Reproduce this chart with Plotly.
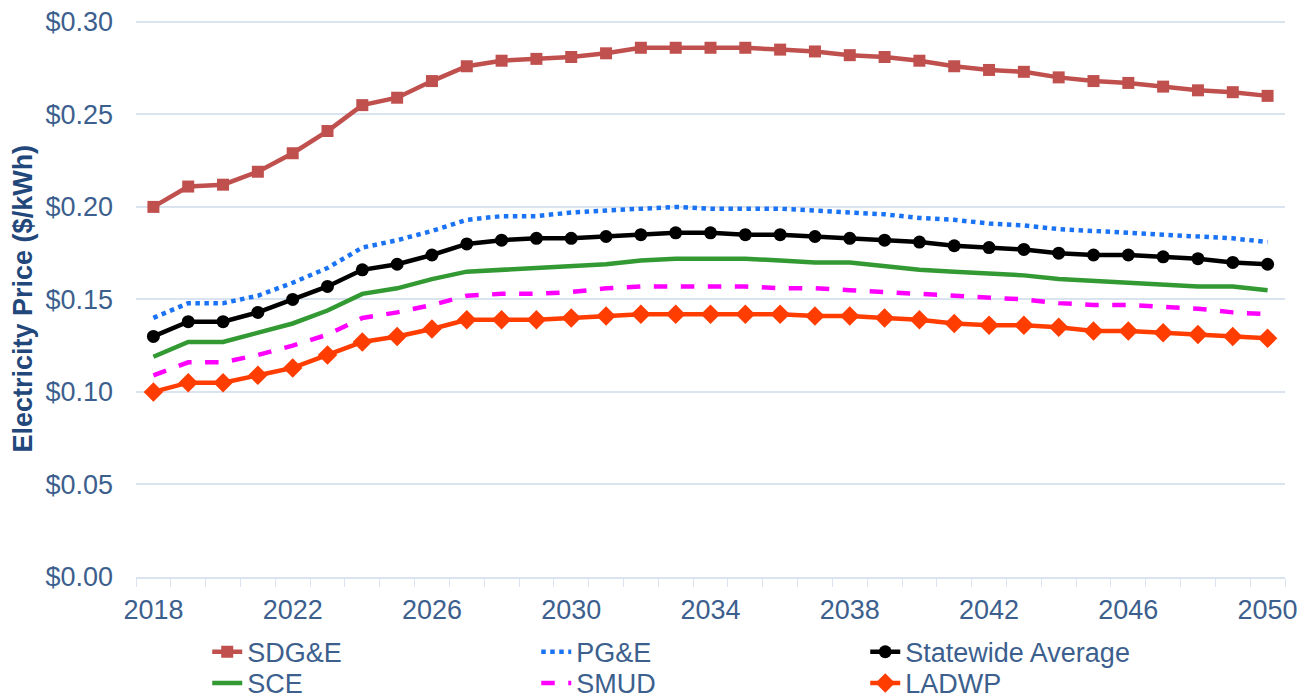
import plotly.graph_objects as go

years = list(range(2018, 2051))

sdge = [0.200, 0.211, 0.212, 0.219, 0.229, 0.241, 0.255, 0.259, 0.268, 0.276, 0.279, 0.280, 0.281, 0.283, 0.286,
        0.286, 0.286, 0.286, 0.285, 0.284, 0.282, 0.281, 0.279, 0.276, 0.274, 0.273, 0.270, 0.268, 0.267, 0.265,
        0.263, 0.262, 0.260]
pge = [0.140, 0.148, 0.148, 0.152, 0.159, 0.167, 0.178, 0.182, 0.187, 0.193, 0.195, 0.195, 0.197, 0.198, 0.199,
       0.200, 0.199, 0.199, 0.199, 0.198, 0.197, 0.196, 0.194, 0.193, 0.191, 0.190, 0.188, 0.187, 0.186, 0.185,
       0.184, 0.183, 0.181]
statewide = [0.130, 0.138, 0.138, 0.143, 0.150, 0.157, 0.166, 0.169, 0.174, 0.180, 0.182, 0.183, 0.183, 0.184, 0.185,
             0.186, 0.186, 0.185, 0.185, 0.184, 0.183, 0.182, 0.181, 0.179, 0.178, 0.177, 0.175, 0.174, 0.174, 0.173,
             0.172, 0.170, 0.169]
sce = [0.119, 0.127, 0.127, 0.132, 0.137, 0.144, 0.153, 0.156, 0.161, 0.165, 0.166, 0.167, 0.168, 0.169, 0.171,
       0.172, 0.172, 0.172, 0.171, 0.170, 0.170, 0.168, 0.166, 0.165, 0.164, 0.163, 0.161, 0.160, 0.159, 0.158,
       0.157, 0.157, 0.155]
smud = [0.109, 0.116, 0.116, 0.120, 0.125, 0.131, 0.140, 0.143, 0.147, 0.152, 0.153, 0.153, 0.154, 0.156, 0.157,
        0.157, 0.157, 0.157, 0.156, 0.156, 0.155, 0.154, 0.153, 0.152, 0.151, 0.150, 0.148, 0.147, 0.147, 0.146,
        0.145, 0.143, 0.142]
ladwp = [0.100, 0.105, 0.105, 0.109, 0.113, 0.120, 0.127, 0.130, 0.134, 0.139, 0.139, 0.139, 0.140, 0.141, 0.142,
         0.142, 0.142, 0.142, 0.142, 0.141, 0.141, 0.140, 0.139, 0.137, 0.136, 0.136, 0.135, 0.133, 0.133, 0.132,
         0.131, 0.130, 0.129]

tick_years = list(range(2018, 2051, 4))
y_ticks = [0.0, 0.05, 0.10, 0.15, 0.20, 0.25, 0.30]

TICK_COLOR = "#3D5F8E"
TITLE_COLOR = "#22477A"
GRID = "#DAE3F0"
FONT = "Liberation Sans, Arial, sans-serif"

fig = go.Figure()

fig.add_trace(go.Scatter(x=years, y=sdge, name="SDG&E", mode="lines+markers", legend="legend",
                         line=dict(color="#C0504D", width=4.5),
                         marker=dict(symbol="square", size=12, color="#C0504D")))
fig.add_trace(go.Scatter(x=years, y=pge, name="PG&E", mode="lines", legend="legend",
                         line=dict(color="#1A73F5", width=4.5, dash="dot")))
fig.add_trace(go.Scatter(x=years, y=statewide, name="Statewide Average", mode="lines+markers", legend="legend",
                         line=dict(color="#000000", width=4.5),
                         marker=dict(symbol="circle", size=13, color="#000000")))
fig.add_trace(go.Scatter(x=years, y=sce, name="SCE", mode="lines", legend="legend2",
                         line=dict(color="#339933", width=4.5)))
fig.add_trace(go.Scatter(x=years, y=smud, name="SMUD", mode="lines", legend="legend2",
                         line=dict(color="#FF00FF", width=4.5, dash="dash")))
fig.add_trace(go.Scatter(x=years, y=ladwp, name="LADWP", mode="lines+markers", legend="legend2",
                         line=dict(color="#FF3D00", width=4.5),
                         marker=dict(symbol="diamond", size=15, color="#FF3D00")))

legend_common = dict(orientation="h", x=0.062, xanchor="left", yanchor="top",
                     entrywidth=284, entrywidthmode="pixels",
                     font=dict(family=FONT, size=27, color=TICK_COLOR),
                     itemwidth=30, bgcolor="rgba(0,0,0,0)")

fig.update_layout(
    width=1311, height=700,
    margin=dict(l=136, r=26, t=20, b=123, autoexpand=False),
    paper_bgcolor="white", plot_bgcolor="white",
    font=dict(family=FONT, size=27, color=TICK_COLOR),
    showlegend=True,
    legend=dict(legend_common, y=-0.091),
    legend2=dict(legend_common, y=-0.147),
    xaxis=dict(range=[2017.5, 2050.5], tickmode="array", tickvals=tick_years,
               ticktext=[str(y) for y in tick_years], ticks="", showgrid=False,
               zeroline=False, showline=True, linecolor=GRID, linewidth=1.5,
               automargin=False, ticklabeloverflow="allow",
               tickfont=dict(family=FONT, size=27, color=TICK_COLOR),
               ticklabelstandoff=8,
               minor=dict(tickmode="linear", tick0=2017.5, dtick=1, ticks="outside",
                          ticklen=8, tickwidth=1.2, tickcolor=GRID, showgrid=False)),
    yaxis=dict(range=[0, 0.301], tickmode="array", tickvals=y_ticks, tickformat="$.2f",
               showgrid=True, gridcolor=GRID, gridwidth=1.5, zeroline=False,
               showline=False, ticks="", ticklabelstandoff=22, automargin=False,
               ticklabeloverflow="allow",
               tickfont=dict(family=FONT, size=27, color=TICK_COLOR)),
    annotations=[dict(text="<b>Electricity Price ($/kWh)</b>", textangle=-90,
                      xref="paper", yref="paper", x=0, y=0.5, xanchor="center", yanchor="middle",
                      xshift=-(136 - 22), showarrow=False,
                      font=dict(family=FONT, size=27, color=TITLE_COLOR))],
)

fig.write_html("out.html", config={"displayModeBar": False},
               post_script="document.body.style.margin='0';document.body.style.padding='0';")
